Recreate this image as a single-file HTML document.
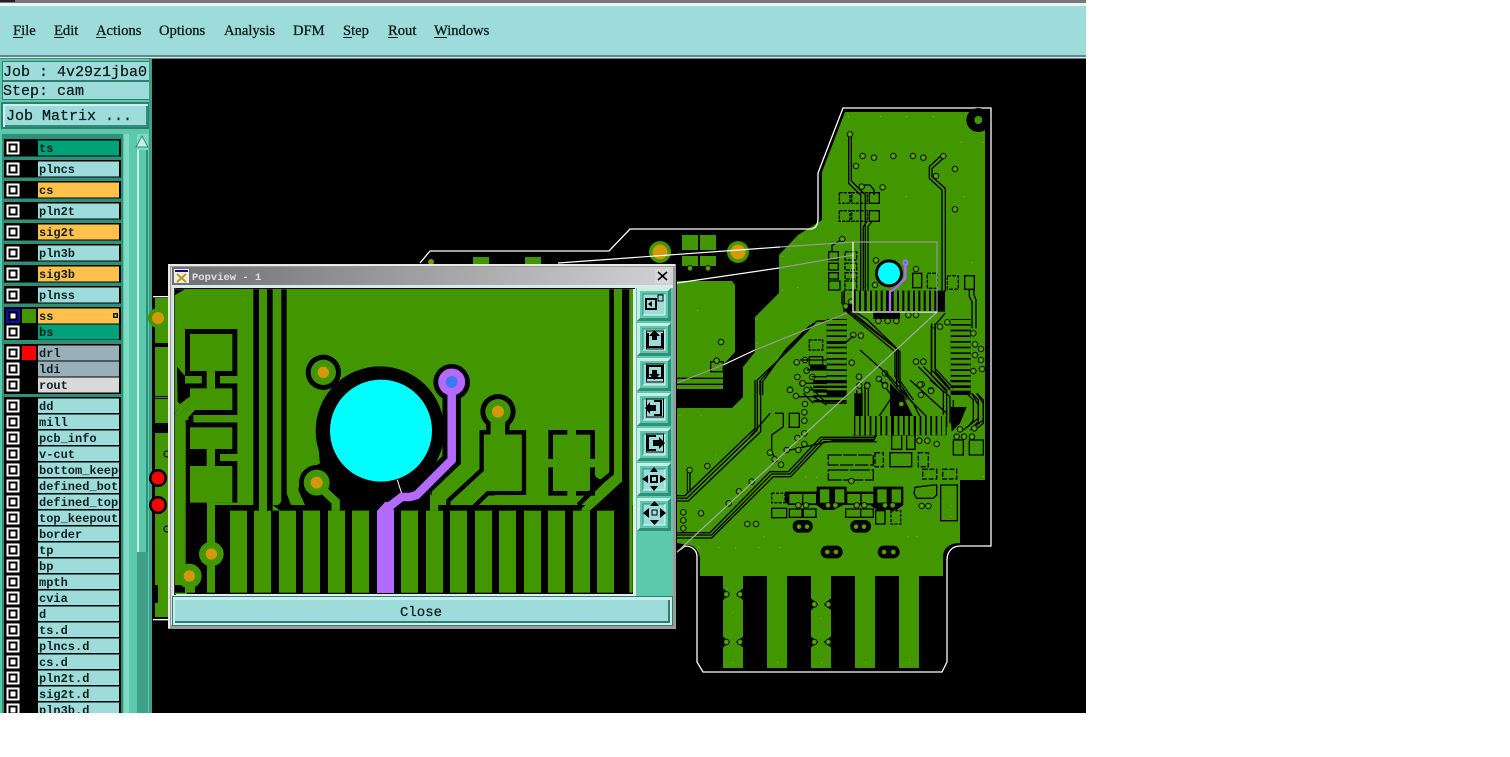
<!DOCTYPE html>
<html>
<head>
<meta charset="utf-8">
<title>Popview</title>
<style>
html,body{margin:0;padding:0;background:#fff;width:1510px;height:757px;overflow:hidden}
svg{display:block}
.l{font:bold 12px "Liberation Mono",monospace;fill:#102020}
.m{font:14.6px "Liberation Serif",serif;fill:#102020;stroke:#102020;stroke-width:.35}
.j{font:15px "Liberation Mono",monospace;fill:#102020;stroke:#102020;stroke-width:.3}
</style>
</head>
<body>
<svg width="1510" height="757" viewBox="0 0 1510 757" xmlns="http://www.w3.org/2000/svg">
<defs>
<linearGradient id="tb" x1="0" x2="1" y1="0" y2="0"><stop offset="0" stop-color="#6f6f6f"/><stop offset="1" stop-color="#d2d2d2"/></linearGradient>
<clipPath id="lc"><rect x="38" y="130" width="81" height="590"/></clipPath>
<clipPath id="cv"><rect x="175" y="289" width="458" height="305"/></clipPath>
<g id="v"><circle r="8.5" fill="#429600" stroke="#000" stroke-width="2.5"/><circle r="3.5" fill="#8a9a00"/></g>
<g id="c"><rect x="6.5" y="-6.5" width="13" height="13" fill="#fff"/><rect x="8.5" y="-4.5" width="9" height="9" fill="#000"/><rect x="10.5" y="-2.5" width="5" height="5" fill="#fff"/></g>
<g id="btn"><rect width="34" height="33" fill="#5cc8ac"/><path d="M0 33V0H34L31 3H3V30Z" fill="#c8eee6"/><path d="M34 0V33H0L3 30H31V3Z" fill="#2f8f78"/><rect x="6" y="6" width="22" height="21" fill="#9edcdc"/><path d="M6 27V6H28" fill="none" stroke="#2f8f78"/><path d="M28 6V27H6" fill="none" stroke="#e4f7f4"/></g>
</defs>

<!-- panel and top -->
<rect width="1510" height="757" fill="#000"/>
<rect x="0" y="0" width="1086" height="3" fill="#777"/>
<rect x="0" y="0" width="15" height="2" fill="#222"/>
<rect x="0" y="3" width="1086" height="3" fill="#e8f6f6"/>
<rect x="0" y="6" width="1086" height="49" fill="#9edcdc"/>
<rect x="0" y="55" width="1086" height="2" fill="#5f8a8a"/>
<rect x="0" y="57" width="1086" height="1.5" fill="#cfeeee"/>
<text class="m" x="13" y="35">File</text><rect x="13" y="37" width="10" height="1" fill="#102020"/>
<text class="m" x="54" y="35">Edit</text><rect x="54" y="37" width="10" height="1" fill="#102020"/>
<text class="m" x="96" y="35">Actions</text><rect x="96" y="37" width="10" height="1" fill="#102020"/>
<text class="m" x="159" y="35">Options</text>
<text class="m" x="224" y="35">Analysis</text>
<text class="m" x="293" y="35">DFM</text>
<text class="m" x="343" y="35">Step</text><rect x="343" y="37" width="9" height="1" fill="#102020"/>
<text class="m" x="388" y="35">Rout</text><rect x="388" y="37" width="10" height="1" fill="#102020"/>
<text class="m" x="434" y="35">Windows</text><rect x="434" y="37" width="13" height="1" fill="#102020"/>

<rect x="0" y="59" width="152" height="654" fill="#5cc8ac"/>
<rect x="2" y="61" width="148" height="20" fill="#2f7f70"/><rect x="3" y="62" width="146" height="18" fill="#9edcdc"/>
<rect x="2" y="81" width="148" height="19" fill="#2f7f70"/><rect x="3" y="82" width="146" height="17" fill="#9edcdc"/>
<text class="j" x="3" y="76" xml:space="preserve">Job : 4v29z1jba0</text>
<text class="j" x="3" y="95" xml:space="preserve">Step: cam</text>
<rect x="1" y="102" width="149" height="27" fill="#2f7f70"/>
<rect x="3" y="104" width="145" height="23" fill="#cfeeee"/>
<rect x="5" y="106" width="143" height="21" fill="#2f8f78"/>
<rect x="5" y="106" width="141" height="19" fill="#9edcdc"/>
<text class="j" x="6" y="120" xml:space="preserve">Job Matrix ...</text>

<!-- list area -->
<rect x="2" y="134" width="121" height="579" fill="#2f8f78"/>
<rect x="124" y="134" width="5" height="579" fill="#7fdcc4"/>
<rect x="129" y="134" width="6" height="579" fill="#5cc8ac"/>
<rect x="137" y="134" width="11" height="579" fill="#3f9f88"/>
<rect x="137" y="134" width="11" height="418" fill="#5cc8ac"/>
<rect x="137" y="134" width="2" height="418" fill="#c8eee6"/>
<rect x="146" y="134" width="2" height="418" fill="#2f8f78"/>
<rect x="137" y="134" width="11" height="16" fill="#7fdcc4"/>
<path d="M142 136L148 147H136Z" fill="#c8eee6" stroke="#2f8f78"/>
<rect x="149" y="59" width="3" height="654" fill="#3f9f88"/>

<!-- row backgrounds -->
<g fill="#000">
<rect x="4" y="139" width="117" height="17.5"/><rect x="4" y="160" width="117" height="17.5"/><rect x="4" y="181" width="117" height="17.5"/><rect x="4" y="202" width="117" height="17.5"/><rect x="4" y="223" width="117" height="17.5"/><rect x="4" y="244" width="117" height="17.5"/><rect x="4" y="265" width="117" height="17.5"/><rect x="4" y="286" width="117" height="17.5"/>
<rect x="4" y="307" width="117" height="33"/>
<rect x="4" y="344" width="117" height="50"/>
<rect x="4" y="397" width="117" height="316"/>
</g>
<g>
<rect x="38" y="140.5" width="81" height="15" fill="#00a078"/>
<rect x="38" y="161.5" width="81" height="15" fill="#9edcdc"/>
<rect x="38" y="182.5" width="81" height="15" fill="#ffc04c"/>
<rect x="38" y="203.5" width="81" height="15" fill="#9edcdc"/>
<rect x="38" y="224.5" width="81" height="15" fill="#ffc04c"/>
<rect x="38" y="245.5" width="81" height="15" fill="#9edcdc"/>
<rect x="38" y="266.5" width="81" height="15" fill="#ffc04c"/>
<rect x="38" y="287.5" width="81" height="15" fill="#9edcdc"/>
<rect x="38" y="308.5" width="81" height="15" fill="#ffc04c"/>
<rect x="38" y="324.5" width="81" height="15" fill="#00a078"/>
<rect x="38" y="345.5" width="81" height="15" fill="#9ab0b8"/>
<rect x="38" y="361.5" width="81" height="15" fill="#9ab0b8"/>
<rect x="38" y="377.5" width="81" height="15" fill="#d9d9d9"/>
<rect x="38" y="398.5" width="81" height="315" fill="#9edcdc"/>
</g>
<g fill="#000">
<rect x="38" y="413" width="81" height="1.5"/><rect x="38" y="429" width="81" height="1.5"/><rect x="38" y="445" width="81" height="1.5"/><rect x="38" y="461" width="81" height="1.5"/><rect x="38" y="477" width="81" height="1.5"/><rect x="38" y="493" width="81" height="1.5"/><rect x="38" y="509" width="81" height="1.5"/><rect x="38" y="525" width="81" height="1.5"/><rect x="38" y="541" width="81" height="1.5"/><rect x="38" y="557" width="81" height="1.5"/><rect x="38" y="573" width="81" height="1.5"/><rect x="38" y="589" width="81" height="1.5"/><rect x="38" y="605" width="81" height="1.5"/><rect x="38" y="621" width="81" height="1.5"/><rect x="38" y="637" width="81" height="1.5"/><rect x="38" y="653" width="81" height="1.5"/><rect x="38" y="669" width="81" height="1.5"/><rect x="38" y="685" width="81" height="1.5"/><rect x="38" y="701" width="81" height="1.5"/>
</g>
<rect x="22" y="309" width="14" height="14" fill="#429600"/>
<rect x="22" y="346" width="14" height="14" fill="#ff0000"/>
<rect x="113" y="313" width="5" height="5" fill="#102020"/><rect x="114.5" y="314.5" width="2" height="2" fill="#ffc04c"/>

<g>
<use href="#c" y="148"/><use href="#c" y="169"/><use href="#c" y="190"/><use href="#c" y="211"/><use href="#c" y="232"/><use href="#c" y="253"/><use href="#c" y="274"/><use href="#c" y="295"/>
<rect x="6" y="309" width="14" height="14" fill="#1010a0"/><rect x="8.5" y="311.5" width="9" height="9" fill="#000"/><rect x="10.5" y="313.5" width="5" height="5" fill="#fff"/>
<use href="#c" y="332"/><use href="#c" y="353"/><use href="#c" y="369"/><use href="#c" y="385"/>
<use href="#c" y="406"/><use href="#c" y="422"/><use href="#c" y="438"/><use href="#c" y="454"/><use href="#c" y="470"/><use href="#c" y="486"/><use href="#c" y="502"/><use href="#c" y="518"/><use href="#c" y="534"/><use href="#c" y="550"/><use href="#c" y="566"/><use href="#c" y="582"/><use href="#c" y="598"/><use href="#c" y="614"/><use href="#c" y="630"/><use href="#c" y="646"/><use href="#c" y="662"/><use href="#c" y="678"/><use href="#c" y="694"/><use href="#c" y="710"/>
</g>
<g clip-path="url(#lc)">
<text class="l" x="39" y="152">ts</text>
<text class="l" x="39" y="173">plncs</text>
<text class="l" x="39" y="194">cs</text>
<text class="l" x="39" y="215">pln2t</text>
<text class="l" x="39" y="236">sig2t</text>
<text class="l" x="39" y="257">pln3b</text>
<text class="l" x="39" y="278">sig3b</text>
<text class="l" x="39" y="299">plnss</text>
<text class="l" x="39" y="320">ss</text>
<text class="l" x="39" y="336">bs</text>
<text class="l" x="39" y="357">drl</text>
<text class="l" x="39" y="373">ldi</text>
<text class="l" x="39" y="389">rout</text>
<text class="l" x="39" y="410">dd</text>
<text class="l" x="39" y="426">mill</text>
<text class="l" x="39" y="442">pcb_info</text>
<text class="l" x="39" y="458">v-cut</text>
<text class="l" x="39" y="474">bottom_keepout</text>
<text class="l" x="39" y="490">defined_bottom</text>
<text class="l" x="39" y="506">defined_top</text>
<text class="l" x="39" y="522">top_keepout</text>
<text class="l" x="39" y="538">border</text>
<text class="l" x="39" y="554">tp</text>
<text class="l" x="39" y="570">bp</text>
<text class="l" x="39" y="586">mpth</text>
<text class="l" x="39" y="602">cvia</text>
<text class="l" x="39" y="618">d</text>
<text class="l" x="39" y="634">ts.d</text>
<text class="l" x="39" y="650">plncs.d</text>
<text class="l" x="39" y="666">cs.d</text>
<text class="l" x="39" y="682">pln2t.d</text>
<text class="l" x="39" y="698">sig2t.d</text>
<text class="l" x="39" y="714">pln3b.d</text>
</g>

<!-- board base -->
<path fill="#429600" d="M845 112H985V480H960V543C950 543 943 548 943 557V576H700V560C700 552 695 545 688 545L677 543V408H732L743 397V367L755 352V317L779 293V255L798 235L822 220V172Z"/>
<path fill="#429600" d="M677 281H732L735 285V352L723 365V390H677Z"/>
<g fill="#429600">
<rect x="723" y="576" width="20" height="92"/><rect x="767" y="576" width="20" height="92"/><rect x="811" y="576" width="20" height="92"/><rect x="855" y="576" width="20" height="92"/><rect x="899" y="576" width="20" height="92"/>
<rect x="682" y="235" width="16" height="15"/><rect x="700" y="235" width="16" height="15"/><rect x="682" y="256" width="16" height="10"/><rect x="700" y="256" width="16" height="10"/>
<rect x="473" y="257" width="16" height="8"/><rect x="525" y="257" width="16" height="8"/>
</g>
<circle cx="738" cy="252" r="11" fill="#429600"/><circle cx="738" cy="252" r="7.5" fill="#d4980c"/>
<circle cx="660" cy="252" r="11" fill="#429600"/><circle cx="660" cy="252" r="7.5" fill="#d4980c"/>
<circle cx="431" cy="262" r="3" fill="#7a9a00"/>

<!-- outline -->
<path fill="none" stroke="#fff" stroke-width="1.3" d="M420 263L430 251H609L630 229H810C816 229 818 224 818 218V173L843 108H991V546H960C952 546 947 552 947 560V662L942 672H703L697 662V557C697 550 692 546 685 546L677 552"/>

<!-- upper detail -->
<g transform="translate(670 95) scale(.33333)">
<circle cx="925" cy="75" r="36" fill="#000"/><circle cx="925" cy="75" r="12" fill="#429600"/>
<g fill="none" stroke="#000" stroke-width="4">
<path d="M536 118V265L572 300V590"/><path d="M544 118V258L586 300V590"/>
<path d="M812 183L778 215V250L816 285V590"/><path d="M820 190L786 220V245L826 280V590"/>
<path d="M575 270H600L612 285V300"/><path d="M590 380L580 395V590"/><path d="M605 380L594 395V590"/>
<path d="M508 293H540V325H508Z" stroke-dasharray="10 3"/><path d="M545 293H592V325H545Z" stroke-dasharray="10 3"/><path d="M598 293H628V325H598Z"/>
<path d="M508 347H540V379H508Z" stroke-dasharray="10 3"/><path d="M545 347H592V379H545Z" stroke-dasharray="10 3"/><path d="M598 347H628V379H598Z"/>
<path d="M476 470H505V495H476ZM476 505H505V525H476ZM476 533H505V552H476ZM476 558H510V585H476Z"/>
<path d="M525 470H560V495H525ZM525 505H560V525H525ZM525 533H560V552H525ZM525 558H560V585H525Z" stroke-dasharray="12 3"/>
<path d="M486 470V452L517 432"/><path d="M516 590V625L530 640"/>
<path d="M728 535H755V578H728Z"/><path d="M772 535H802V580H772Z" stroke-dasharray="11 4"/><path d="M832 542H865V583H832Z" stroke-dasharray="11 4"/><path d="M884 542H913V583H884Z"/>
<path d="M898 583V605L906 620V700"/><path d="M912 583V600L918 615V700"/>
<path d="M530 645L575 680L690 770V880"/><path d="M545 645L590 672L680 760V880"/>
<path d="M790 700L784 695V840L830 890"/><path d="M825 655L796 690V830L840 880"/>
<path d="M440 678H470"/><path d="M440 678L362 760L262 855V900"/><path d="M430 685L356 760L270 858V900"/><path d="M420 692L350 760L278 860V900"/>
<path d="M418 735H458V765H418Z" stroke-dasharray="10 3"/><path d="M418 785H458V810H418Z"/>
<path d="M122 800H160V830H122Z"/><path d="M20 850H165M20 868H165M20 884H160"/>
</g>
<!-- combs -->
<rect x="520" y="587" width="305" height="63" fill="#000"/>
<rect x="610" y="648" width="80" height="24" fill="#000"/>
<g fill="#429600">
<rect x="525" y="587" width="26" height="40"/><rect x="557" y="587" width="10" height="61"/><rect x="573" y="587" width="10" height="61"/><rect x="590" y="587" width="10" height="61"/><rect x="606" y="587" width="10" height="61"/><rect x="622" y="587" width="10" height="61"/><rect x="638" y="587" width="10" height="61"/><rect x="671" y="587" width="10" height="61"/><rect x="687" y="587" width="10" height="61"/><rect x="703" y="587" width="10" height="61"/><rect x="719" y="587" width="10" height="61"/><rect x="735" y="587" width="10" height="61"/><rect x="751" y="587" width="10" height="61"/><rect x="767" y="587" width="10" height="61"/><rect x="783" y="587" width="10" height="61"/>
</g>
<g fill="#000">
<rect x="470" y="672" width="60" height="228"/>
<rect x="842" y="672" width="60" height="228"/>
<rect x="420" y="810" width="50" height="15"/>
</g>
<g fill="#429600">
<rect x="470" y="675" width="60" height="12"/><rect x="470" y="692" width="60" height="12"/><rect x="470" y="709" width="60" height="12"/><rect x="470" y="726" width="60" height="12"/><rect x="470" y="743" width="60" height="12"/><rect x="470" y="760" width="60" height="12"/><rect x="470" y="777" width="60" height="12"/><rect x="470" y="794" width="60" height="12"/><rect x="470" y="811" width="60" height="12"/><rect x="470" y="828" width="60" height="12"/><rect x="470" y="845" width="60" height="12"/><rect x="470" y="862" width="60" height="12"/><rect x="470" y="879" width="60" height="12"/>
<rect x="842" y="675" width="60" height="12"/><rect x="842" y="692" width="60" height="12"/><rect x="842" y="709" width="60" height="12"/><rect x="842" y="726" width="60" height="12"/><rect x="842" y="743" width="60" height="12"/><rect x="842" y="760" width="60" height="12"/><rect x="842" y="777" width="60" height="12"/><rect x="842" y="794" width="60" height="12"/><rect x="842" y="811" width="60" height="12"/><rect x="842" y="828" width="60" height="12"/><rect x="842" y="845" width="60" height="12"/><rect x="842" y="862" width="60" height="12"/><rect x="842" y="879" width="60" height="12"/>
</g>
<circle cx="657" cy="535" r="42" fill="#000"/><circle cx="657" cy="535" r="33" fill="#00ffff"/>
<path d="M706 510V550L672 583L660 590V648" fill="none" stroke="#b469ff" stroke-width="7"/>
<circle cx="706" cy="503" r="9" fill="#b469ff"/><circle cx="706" cy="503" r="4" fill="#3c78f0"/>
<g>
<use href="#v" x="540" y="118"/><use href="#v" x="578" y="183"/><use href="#v" x="612" y="188"/><use href="#v" x="670" y="183"/><use href="#v" x="729" y="183"/><use href="#v" x="760" y="188"/><use href="#v" x="820" y="183"/><use href="#v" x="855" y="222"/><use href="#v" x="558" y="213"/><use href="#v" x="798" y="243"/><use href="#v" x="855" y="343"/><use href="#v" x="575" y="275"/><use href="#v" x="638" y="277"/><use href="#v" x="517" y="432"/><use href="#v" x="618" y="496"/><use href="#v" x="738" y="522"/><use href="#v" x="615" y="570"/><use href="#v" x="543" y="620"/><use href="#v" x="527" y="634"/><use href="#v" x="625" y="678"/><use href="#v" x="653" y="678"/><use href="#v" x="679" y="678"/><use href="#v" x="715" y="660"/><use href="#v" x="738" y="660"/><use href="#v" x="832" y="682"/><use href="#v" x="810" y="695"/><use href="#v" x="910" y="715"/><use href="#v" x="915" y="748"/><use href="#v" x="933" y="762"/><use href="#v" x="915" y="780"/><use href="#v" x="933" y="795"/><use href="#v" x="910" y="828"/><use href="#v" x="936" y="822"/><use href="#v" x="550" y="720"/><use href="#v" x="573" y="722"/><use href="#v" x="738" y="800"/><use href="#v" x="760" y="800"/><use href="#v" x="380" y="802"/><use href="#v" x="405" y="795"/><use href="#v" x="545" y="803"/><use href="#v" x="410" y="827"/><use href="#v" x="382" y="846"/><use href="#v" x="427" y="846"/><use href="#v" x="397" y="865"/><use href="#v" x="360" y="884"/><use href="#v" x="410" y="885"/><use href="#v" x="567" y="845"/><use href="#v" x="645" y="835"/><use href="#v" x="627" y="852"/><use href="#v" x="568" y="872"/><use href="#v" x="592" y="870"/><use href="#v" x="645" y="870"/><use href="#v" x="755" y="868"/><use href="#v" x="783" y="886"/><use href="#v" x="153" y="741"/><use href="#v" x="140" y="797"/>
<use href="#v" x="60" y="520"/><use href="#v" x="114" y="520"/>
</g>
<g fill="#9aa800"><circle cx="535" cy="65" r="2"/><circle cx="632" cy="65" r="2"/><circle cx="710" cy="65" r="2"/><circle cx="790" cy="65" r="2"/><circle cx="873" cy="142" r="2"/><circle cx="940" cy="142" r="2"/><circle cx="708" cy="305" r="2"/><circle cx="882" cy="305" r="2"/><circle cx="395" cy="427" r="2"/><circle cx="338" cy="485" r="2"/><circle cx="338" cy="585" r="2"/><circle cx="383" cy="578" r="2"/><circle cx="262" cy="673" r="2"/><circle cx="262" cy="745" r="2"/><circle cx="83" cy="647" r="2"/><circle cx="905" cy="503" r="2"/></g>
</g>

<!-- mid-board traces -->
<g transform="translate(750 310) scale(.33333)" fill="none" stroke="#000" stroke-width="4">
<path d="M290 5L435 125V200L475 260"/><path d="M305 5L445 120V205L490 270"/>
<path d="M330 120L420 200L490 280L510 320"/>
<path d="M520 170L590 240V310"/><path d="M505 170L580 245V315"/>
<path d="M545 40V180L600 240"/><path d="M555 40V175L610 235"/>
<path d="M320 240V320"/><path d="M335 235V320"/><path d="M345 230V320"/><path d="M355 230V320"/>
<path d="M150 150H230M170 180H230M185 200H230M155 220H230M170 240H230M140 260H190L230 285"/>
<path d="M310 78L285 100H230"/><path d="M405 190L470 270"/><path d="M390 210L450 290"/>
<path d="M310 375H380L370 392H250L120 420"/>
<path d="M680 250L700 280V330L660 360"/><path d="M665 250L685 285V325L640 360"/>
</g>

<!-- lower detail -->
<g transform="translate(670 380) scale(.33333)">
<g fill="none" stroke="#000" stroke-width="4">
<path d="M20 347H45L255 145V0"/><path d="M20 355H50L262 150V0"/><path d="M20 363H55L272 155V0"/>
<path d="M20 458H120L300 275H355L452 172H610L630 155"/><path d="M20 465H125L305 282H360L457 178H615"/><path d="M20 474H125L310 290H362L462 185H620"/>
<path d="M315 100H340V140L305 165V215L315 235"/>
<path d="M358 100H388V142H358Z"/>
<path d="M60 270V335"/><path d="M52 270V340" stroke-width="3"/>
<path d="M475 225H610V255H475Z" stroke-dasharray="40 5"/><path d="M475 270H610V300H475Z" stroke-dasharray="60 5"/>
<path d="M615 218H640V260H615Z" stroke-dasharray="15 5"/><path d="M660 218H725V260H660Z"/><path d="M745 218H775V260H745Z" stroke-dasharray="15 5"/>
<path d="M758 268H800V297H758Z" stroke-dasharray="15 5"/><path d="M818 268H860V297H818Z" stroke-dasharray="15 5"/>
<path d="M735 322L790 315H800V345L790 355H740L732 340Z"/>
<path d="M812 315H862V422H812Z"/>
<path d="M850 180H880V225H850Z"/><path d="M898 180H940V225H898Z"/>
<path d="M665 165H695V208H665Z"/><path d="M710 165H735V208H710Z"/>
<path d="M305 340H345V368H305Z" stroke-dasharray="9 4"/><path d="M305 385H350V413H305Z"/>
<path d="M358 387H396V412H358ZM400 387H438V412H400Z"/>
<path d="M527 387H572V412H527ZM572 387H610V412H572Z"/>
<path d="M617 392H645V432H617Z"/><path d="M663 392H692V432H663Z" stroke-dasharray="9 4"/>
<path d="M620 120L660 60L725 140M690 30L800 140M720 0L830 100V140M780 0L840 50V130"/>
<path d="M850 60V145M920 40L940 60V130L915 150M905 40L925 60V125L905 145M890 40L910 60V120L895 140"/>
<path d="M420 20L470 70H530M400 40L430 70"/>
<path d="M300 100L240 170"/>
</g>
<!-- blocks -->
<g fill="#000">
<rect x="430" y="0" width="100" height="10"/><rect x="430" y="17" width="100" height="7"/><rect x="430" y="31" width="100" height="7"/><rect x="430" y="45" width="100" height="7"/><rect x="430" y="60" width="100" height="7"/>
<rect x="842" y="0" width="60" height="6"/><rect x="842" y="16" width="60" height="6"/><rect x="842" y="32" width="60" height="6"/>
<path d="M660 9V111H730L700 50Z"/>
<path d="M840 81H890L870 130L845 155Z"/>
<rect x="552" y="108" width="278" height="58"/>
<rect x="553" y="40" width="25" height="68"/>
<path d="M345 335H440V320H530V335H610V320H700V375L680 390H620L600 375H520L490 390H460L440 375H355L345 365Z"/>
<rect x="368" y="420" width="60" height="38" rx="18"/><rect x="541" y="420" width="62" height="38" rx="18"/>
<rect x="452" y="497" width="66" height="38" rx="19"/><rect x="623" y="497" width="66" height="38" rx="19"/>
<path d="M159 625L180 643L159 660ZM219 625L198 643L219 660Z"/>
<path d="M159 770L180 786L159 802ZM219 770L198 786L219 802Z"/>
<path d="M423 655L445 673L423 690ZM483 655L461 673L483 690Z"/>
<path d="M423 770L445 786L423 802ZM483 770L461 786L483 802Z"/>
</g>
<g fill="#429600">
<rect x="556" y="108" width="11" height="58"/><rect x="572" y="108" width="11" height="58"/><rect x="588" y="108" width="11" height="58"/><rect x="604" y="108" width="11" height="58"/><rect x="620" y="108" width="11" height="58"/><rect x="636" y="108" width="11" height="58"/><rect x="652" y="108" width="11" height="58"/><rect x="672" y="108" width="11" height="58"/><rect x="688" y="108" width="11" height="58"/><rect x="704" y="108" width="11" height="58"/><rect x="720" y="108" width="11" height="58"/><rect x="738" y="108" width="11" height="58"/><rect x="754" y="108" width="11" height="58"/><rect x="770" y="108" width="11" height="58"/><rect x="786" y="108" width="11" height="58"/><rect x="802" y="108" width="11" height="58"/><rect x="816" y="108" width="11" height="58"/>
<rect x="358" y="342" width="38" height="28"/><rect x="400" y="342" width="38" height="28"/><rect x="450" y="328" width="28" height="40"/><rect x="495" y="328" width="28" height="40"/><rect x="532" y="342" width="38" height="28"/><rect x="575" y="342" width="35" height="28"/><rect x="622" y="328" width="28" height="40"/><rect x="665" y="328" width="28" height="40"/>
</g>
<g>
<use href="#v" x="398" y="10"/><use href="#v" x="360" y="30"/><use href="#v" x="410" y="30"/><use href="#v" x="378" y="48"/><use href="#v" x="405" y="72"/><use href="#v" x="403" y="97"/><use href="#v" x="403" y="122"/><use href="#v" x="403" y="160"/><use href="#v" x="382" y="174"/><use href="#v" x="403" y="192"/><use href="#v" x="385" y="210"/><use href="#v" x="350" y="210"/><use href="#v" x="300" y="218"/><use href="#v" x="314" y="238"/><use href="#v" x="333" y="254"/><use href="#v" x="245" y="305"/><use href="#v" x="207" y="334"/><use href="#v" x="176" y="370"/><use href="#v" x="112" y="258"/><use href="#v" x="59" y="270"/><use href="#v" x="93" y="400"/><use href="#v" x="40" y="397"/><use href="#v" x="40" y="421"/><use href="#v" x="40" y="445"/><use href="#v" x="232" y="432"/><use href="#v" x="258" y="432"/>
<use href="#v" x="568" y="17"/><use href="#v" x="592" y="17"/><use href="#v" x="645" y="17"/><use href="#v" x="753" y="45"/><use href="#v" x="783" y="33"/><use href="#v" x="750" y="14"/><use href="#v" x="694" y="72"/>
<use href="#v" x="748" y="182"/><use href="#v" x="772" y="182"/><use href="#v" x="800" y="192"/><use href="#v" x="870" y="148"/><use href="#v" x="860" y="170"/><use href="#v" x="882" y="170"/><use href="#v" x="906" y="170"/><use href="#v" x="913" y="145"/>
<use href="#v" x="385" y="376"/><use href="#v" x="408" y="376"/><use href="#v" x="474" y="376"/><use href="#v" x="496" y="376"/><use href="#v" x="560" y="376"/><use href="#v" x="583" y="376"/><use href="#v" x="645" y="376"/><use href="#v" x="668" y="376"/><use href="#v" x="755" y="378"/><use href="#v" x="775" y="378"/>
<use href="#v" x="387" y="440"/><use href="#v" x="411" y="440"/><use href="#v" x="558" y="440"/><use href="#v" x="582" y="440"/><use href="#v" x="472" y="516"/><use href="#v" x="498" y="516"/><use href="#v" x="642" y="516"/><use href="#v" x="670" y="516"/>
<use href="#v" x="169" y="643"/><use href="#v" x="210" y="643"/><use href="#v" x="169" y="786"/><use href="#v" x="210" y="786"/><use href="#v" x="433" y="673"/><use href="#v" x="475" y="673"/><use href="#v" x="433" y="786"/><use href="#v" x="475" y="786"/>
<use href="#v" x="544" y="303"/>
</g>
<g fill="#9aa800"><circle cx="30" cy="107" r="2"/><circle cx="92" cy="107" r="2"/><circle cx="137" cy="225" r="2"/><circle cx="282" cy="470" r="2"/><circle cx="147" cy="503" r="2"/><circle cx="197" cy="503" r="2"/><circle cx="267" cy="503" r="2"/><circle cx="330" cy="503" r="2"/><circle cx="87" cy="503" r="2"/><circle cx="407" cy="292" r="2"/><circle cx="440" cy="292" r="2"/><circle cx="715" cy="470" r="2"/><circle cx="740" cy="470" r="2"/><circle cx="940" cy="290" r="2"/><circle cx="188" cy="698" r="2"/><circle cx="453" cy="716" r="2"/><circle cx="188" cy="848" r="2"/><circle cx="323" cy="848" r="2"/><circle cx="455" cy="848" r="2"/><circle cx="587" cy="848" r="2"/><circle cx="719" cy="848" r="2"/><circle cx="843" cy="378" r="2"/><circle cx="843" cy="410" r="2"/></g>
</g>

<!-- popview link lines -->
<g fill="none" stroke-width="1.2">
<path d="M558 263L780 247" stroke="#fff"/><path d="M780 247L853 242" stroke="#999"/>
<path d="M677 283L779 268" stroke="#fff"/><path d="M779 268L853 255" stroke="#999"/>
<path d="M677 383L723 365" stroke="#999"/><path d="M723 365L755 350" stroke="#fff"/><path d="M755 350L847 313" stroke="#999"/>
<path d="M937 312L677 552" stroke="#aaa"/>
<path d="M853 242H937V312" stroke="#999"/><path d="M853 242V312H937" stroke="#fff"/>
</g>

<!-- left strip -->
<rect x="155" y="298" width="15" height="45" fill="#429600"/>
<rect x="155" y="343" width="15" height="4" fill="#000"/>
<rect x="155" y="347" width="15" height="270" fill="#429600"/>
<rect x="155" y="423" width="15" height="10" fill="#000"/>
<rect x="155" y="396" width="15" height="1" fill="#000"/><rect x="155" y="398" width="15" height="1" fill="#000"/>
<rect x="155" y="585" width="3" height="18" fill="#000"/>
<rect x="153" y="296" width="17" height="1.3" fill="#fff"/><rect x="153" y="619" width="17" height="1.3" fill="#fff"/>
<circle cx="158" cy="318" r="10" fill="#429600"/><circle cx="158" cy="318" r="6" fill="#d4980c"/>
<circle cx="158" cy="478" r="9" fill="#000"/><circle cx="158" cy="478" r="6.5" fill="#ff0000"/>
<circle cx="158" cy="505" r="9" fill="#000"/><circle cx="158" cy="505" r="6.5" fill="#ff0000"/>
<circle cx="167" cy="454" r="3" fill="none" stroke="#000"/><circle cx="167" cy="529" r="3" fill="none" stroke="#000"/>

<!-- popup window -->
<rect x="168" y="264" width="508" height="365" fill="#9a9a9a"/>
<rect x="168" y="264" width="507" height="2" fill="#e8e8e8"/>
<rect x="168" y="264" width="2" height="364" fill="#e8e8e8"/>
<rect x="171" y="267" width="502" height="358" fill="#dcdcdc"/>
<rect x="172" y="267" width="501" height="18" fill="url(#tb)"/>
<rect x="172" y="285" width="501" height="3" fill="#dde8e8"/>
<rect x="174" y="269" width="15" height="14" fill="#eee"/><rect x="175" y="270" width="13" height="2" fill="#101080"/>
<path d="M177 274L186 282M186 274L177 282" stroke="#b8a000" stroke-width="2"/>
<text x="192" y="280" font-family="'Liberation Mono',monospace" font-size="10.5" font-weight="bold" fill="#e0e0e0" xml:space="preserve">Popview - 1</text>
<rect x="655" y="269" width="15" height="14" fill="#d8d8d8"/>
<path d="M658 272L667 280M667 272L658 280" stroke="#000" stroke-width="1.6"/>

<rect x="173" y="288" width="464" height="308" fill="#dff0ee"/>
<rect x="174" y="288" width="461" height="2" fill="#000"/>
<rect x="174" y="288" width="2" height="307" fill="#1b3b3b"/>
<rect x="175" y="289" width="458" height="305" fill="#429600"/>

<g clip-path="url(#cv)">
<rect x="187" y="505" width="446" height="89" fill="#000"/>
<g transform="translate(165 260) scale(.33333)">
<path d="M30 88H60L30 105Z" fill="#000"/>
<rect x="265" y="88" width="17" height="650" fill="#000"/>
<rect x="306" y="88" width="17" height="650" fill="#000"/>
<path d="M349 88H365V700L378 735H420V752H340V735L349 725Z" fill="#000"/>
<path d="M323 735L345 752H323Z" fill="#429600"/>
<rect x="282" y="735" width="24" height="20" fill="#429600"/>
<!-- pads block -->
<path fill="#000" d="M60 207H217V348H165V370H217V465H90V487H217V582H165V603H217V728H62V998H30V975L62 960V490L30 460L60 420V370H110V348H60Z"/>
<path fill="#429600" d="M75 222H202V333H150V385H202V450H90L70 472V480L40 480 40 470 75 433V385H125V333H75Z"/>
<rect x="60" y="348" width="50" height="22" fill="#429600"/>
<rect x="85" y="465" width="132" height="22" fill="#429600"/>
<rect x="165" y="348" width="52" height="22" fill="#429600"/>
<rect x="75" y="502" width="127" height="65" fill="#429600"/>
<rect x="75" y="567" width="50" height="51" fill="#000"/>
<rect x="125" y="567" width="25" height="51" fill="#429600"/>
<rect x="165" y="582" width="52" height="21" fill="#429600"/>
<rect x="75" y="618" width="127" height="110" fill="#429600"/>
<rect x="202" y="728" width="63" height="7" fill="#429600"/>
<rect x="30" y="480" width="32" height="495" fill="#429600"/>
<path d="M40 470L75 433V410L60 420L30 460Z" fill="#429600"/>
<path d="M36 320L60 348V420L45 432L38 425Z" fill="#000"/>
<rect x="62" y="728" width="63" height="270" fill="#000"/>
<rect x="126" y="728" width="24" height="270" fill="#429600"/>
<circle cx="139" cy="882" r="37" fill="#429600"/><circle cx="139" cy="882" r="17" fill="#d4980c"/>
<circle cx="73" cy="948" r="37" fill="#429600"/><circle cx="73" cy="948" r="17" fill="#d4980c"/>
<rect x="60" y="980" width="30" height="18" fill="#429600"/>
<!-- fingers -->
<g fill="#429600">
<rect x="195" y="752" width="51" height="246"/><rect x="267" y="752" width="51" height="246"/><rect x="342" y="752" width="51" height="246"/><rect x="414" y="752" width="51" height="246"/><rect x="489" y="752" width="51" height="246"/><rect x="561" y="752" width="51" height="246"/><rect x="708" y="752" width="51" height="246"/>
</g>
<!-- big black round -->
<path fill="#000" d="M460 560L465 610L410 640L400 690L420 735V752H800V500L650 400Z"/>
<circle cx="645" cy="512" r="193" fill="#000"/>
<circle cx="475" cy="337" r="53" fill="#000"/>
<circle cx="455" cy="668" r="53" fill="#000"/>
<rect x="414" y="752" width="51" height="246" fill="#429600"/><rect x="489" y="752" width="51" height="246" fill="#429600"/><rect x="561" y="752" width="51" height="246" fill="#429600"/><rect x="708" y="752" width="51" height="246" fill="#429600"/>
<circle cx="475" cy="337" r="38" fill="#429600"/><circle cx="475" cy="337" r="17" fill="#d4980c"/>
<circle cx="455" cy="668" r="39" fill="#429600"/><circle cx="455" cy="668" r="18" fill="#d4980c"/>
<path d="M475 690L512 725V752" fill="none" stroke="#429600" stroke-width="25"/>
<circle cx="648" cy="512" r="153" fill="#00ffff"/>
<path d="M697 660L710 700" stroke="#fff" stroke-width="3"/>
</g>

<g transform="translate(420 260) scale(.33333)">
<path d="M95 367V600L-15 705" fill="none" stroke="#000" stroke-width="55"/>
<circle cx="95" cy="367" r="55" fill="#000"/>
<circle cx="234" cy="455" r="53" fill="#000"/>
<circle cx="234" cy="455" r="38" fill="#429600"/><circle cx="234" cy="455" r="18" fill="#d4980c"/>
<rect x="212" y="485" width="44" height="40" fill="#429600"/>
<path d="M205 490V517H185V630L85 722V748" fill="none" stroke="#000" stroke-width="13"/>
<path d="M262 490V517H312V700H203L150 752" fill="none" stroke="#000" stroke-width="13"/>
<path d="M160 735H482V752H160Z" fill="#000"/>
<rect x="20" y="735" width="10" height="17" fill="#000"/>
<rect x="55" y="735" width="25" height="17" fill="#000"/>
<path d="M30 700L55 735V752H30Z" fill="#429600"/>
<path d="M205 725H470L485 712L470 705H225Z" fill="#429600"/>
<path d="M442 517H392V597M392 622V700H442M468 517H518V597M518 622V700H468" fill="none" stroke="#000" stroke-width="14"/>
<path d="M575 88V640L545 665L475 735" fill="none" stroke="#000" stroke-width="14"/>
<path d="M525 625V645C530 660 550 662 565 650L530 690L510 700V625Z" fill="#000"/>
<rect x="606" y="88" width="22" height="590" fill="#000"/>
<path d="M510 752L605 665L630 665V752Z" fill="#000"/>
<rect x="510" y="752" width="120" height="246" fill="#000"/>
<path d="M485 752H510L605 665V660L582 660L485 745Z" fill="#429600"/>
<g fill="#429600">
<rect x="18" y="752" width="51" height="246"/><rect x="90" y="752" width="51" height="246"/><rect x="165" y="752" width="51" height="246"/><rect x="237" y="752" width="51" height="246"/><rect x="312" y="752" width="51" height="246"/><rect x="384" y="752" width="51" height="246"/><rect x="459" y="752" width="51" height="246"/><rect x="531" y="752" width="51" height="246"/>
<rect x="628" y="88" width="10" height="910"/>
</g>
</g>
<!-- purple -->
<path d="M451.7 382V460L416.7 495L410 497H401.7L385 510" fill="none" stroke="#b469ff" stroke-width="8.5"/>
<rect x="377" y="510.7" width="17" height="82.3" fill="#b469ff"/>
<path d="M377 511L385 502H392L394 511Z" fill="#b469ff"/>
<circle cx="451.7" cy="382" r="13.5" fill="#b469ff"/><circle cx="451.7" cy="382" r="6" fill="#3c78f0"/>
</g>
<rect x="633" y="289" width="3" height="305" fill="#dff0ee"/>

<!-- toolbar -->
<rect x="636" y="288" width="37" height="308" fill="#5cc8ac"/>
<g>
<use href="#btn" x="637" y="288"/><use href="#btn" x="637" y="323"/><use href="#btn" x="637" y="358"/><use href="#btn" x="637" y="393"/><use href="#btn" x="637" y="428"/><use href="#btn" x="637" y="463"/><use href="#btn" x="637" y="498"/>
</g>
<g fill="none" stroke="#000" stroke-width="2">
<rect x="646" y="299" width="10" height="10"/><rect x="658" y="295" width="5" height="6" stroke-width="1"/>
<path d="M648 333V347H662V333" /><rect x="646.5" y="331" width="17" height="18" stroke-width="1"/>
<path d="M648 366H662V378H648Z"/><rect x="646.5" y="364" width="17" height="18" stroke-width="1"/>
<path d="M654 401H661V415H654"/><rect x="646.5" y="399" width="17" height="18" stroke-width="1"/>
<path d="M656 436H648V450H656"/><rect x="646.5" y="434" width="17" height="18" stroke-width="1"/>
<rect x="651" y="476" width="6" height="6"/>
<rect x="652" y="510" width="5" height="5" stroke-width="1"/>
</g>
<g fill="#000">
<path d="M648 304L652 301V307Z"/>
<path d="M654.5 330L660 336H657V340H652V336H649Z"/>
<path d="M654.5 380L660 374H657V370H652V374H649Z"/>
<path d="M645 408L650 402V405H656V411H650V414Z"/>
<path d="M665 443L659 437V440H653V446H659V449Z"/>
<path d="M654 467L650 472H658ZM654 491L650 486H658ZM642 479L648 475V483ZM666 479L660 475V483Z"/>
<path d="M654.5 501L650 506H659ZM654.5 525L650 520H659ZM643 513L649 508V518ZM666 513L660 508V518Z"/>
</g>

<!-- close -->
<rect x="172" y="596" width="501" height="30" fill="#2f7f70"/>
<rect x="173" y="597" width="499" height="28" fill="#c8eeee"/>
<rect x="175" y="600" width="495" height="23" fill="#2f7f70"/>
<rect x="175" y="600" width="493" height="21" fill="#9edcdc"/>
<text class="j" x="400" y="616" xml:space="preserve" style="font-size:14px">Close</text>

<!-- white mask -->
<rect x="1086" y="0" width="424" height="757" fill="#fff"/>
<rect x="0" y="713" width="1510" height="44" fill="#fff"/>
</svg>
</body>
</html>
